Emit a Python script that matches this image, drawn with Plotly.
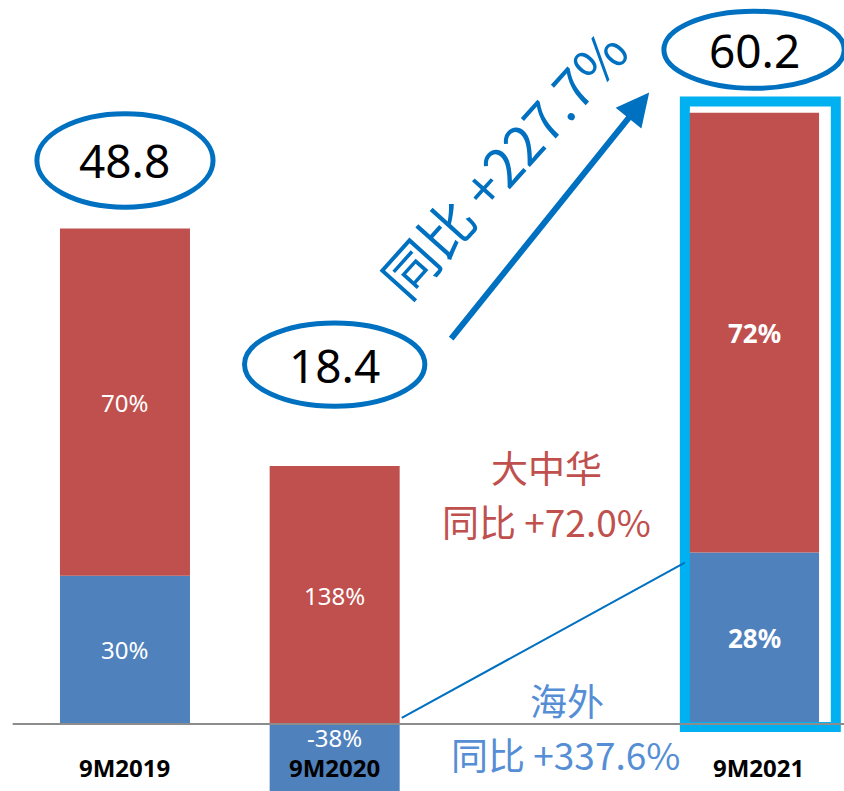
import plotly.graph_objects as go

# data
periods = ["9M2019", "9M2020", "9M2021"]
xpos = [0, 1, 3]
totals = [48.8, 18.4, 60.2]
overseas = [14.6, -7.0, 16.9]
greater_china = [34.2, 25.4, 43.3]
overseas_pct = ["30%", "-38%", "28%"]
china_pct = ["70%", "138%", "72%"]
total_yoy = "同比 +227.7%"
china_name = "大中华"
china_yoy = "同比 +72.0%"
overseas_name = "海外"
overseas_yoy = "同比 +337.6%"

RED = "#C0504D"
BLUE = "#4F81BD"
DARK = "#0070C0"
CJK = "Noto Sans CJK SC"
NUM = "Noto Sans, sans-serif"

fig = go.Figure()
fig.add_trace(go.Bar(x=xpos, y=overseas, marker_color=BLUE, width=0.62,
                     marker_line_width=0, hoverinfo="skip"))
fig.add_trace(go.Bar(x=xpos, y=greater_china, marker_color=RED, width=0.62,
                     marker_line_width=0, hoverinfo="skip"))

# segment labels
for i in range(len(periods)):
    bold = i == 2
    size = 26 if bold else 24
    blue_y = overseas[i] / 2 if overseas[i] > 0 else -1.3
    red_y = max(overseas[i], 0) + greater_china[i] / 2
    for txt, yy in [(overseas_pct[i], blue_y), (china_pct[i], red_y)]:
        fig.add_annotation(x=xpos[i], y=yy, text=f"<b>{txt}</b>" if bold else txt,
                           showarrow=False, font=dict(color="white", size=size, family=NUM))
    # category labels
    fig.add_annotation(x=xpos[i] + (0.02 if i == 2 else 0), y=-4.25,
                       text=f"<b>{periods[i]}</b>", showarrow=False,
                       font=dict(color="black", size=24, family=NUM))

# total ellipses
offsets = [6.7, 17.0, 6.2]
rx = [0.42, 0.43, 0.43]
ry = [4.6, 4.1, 3.8]
for i in range(len(periods)):
    cy = totals[i] + offsets[i]
    cx = xpos[i]
    fig.add_shape(type="circle", x0=cx - rx[i], x1=cx + rx[i], y0=cy - ry[i], y1=cy + ry[i],
                  line=dict(color=DARK, width=5))
    fig.add_annotation(x=cx, y=cy, text=f"{totals[i]}", showarrow=False,
                       font=dict(color="black", size=46, family=NUM))

# frame around 9M2021
fig.add_shape(type="rect", x0=2.67, x1=3.39, y0=-0.3, y1=61.3,
              line=dict(color="#00B0F0", width=10))

# baseline
fig.add_shape(type="line", xref="paper", x0=0.015, x1=1, y0=0, y1=0,
              line=dict(color="#8C8C8C", width=2))

# connector line
fig.add_shape(type="line", x0=1.32, y0=0.6, x1=2.67, y1=15.9,
              line=dict(color=DARK, width=2))

# big arrow
fig.add_annotation(x=2.5, y=62.2, ax=1.55, ay=37.8, axref="x", ayref="y",
                   showarrow=True, arrowhead=2, arrowsize=1.1, arrowwidth=6,
                   arrowcolor=DARK, text="")
fig.add_annotation(x=1.8, y=55.3, text=total_yoy, textangle=-48, showarrow=False,
                   font=dict(color=DARK, size=54, family=CJK))

# growth notes
notes = [
    (china_name, 2.01, 25.3, RED),
    (china_yoy, 2.01, 19.95, RED),
    (overseas_name, 2.11, 2.4, "#558ED5"),
    (overseas_yoy, 2.1, -2.95, "#558ED5"),
]
for txt, nx, ny, col in notes:
    fig.add_annotation(x=nx, y=ny, text=txt, showarrow=False,
                       font=dict(color=col, size=37, family=CJK))

fig.update_layout(
    width=844, height=791,
    margin=dict(l=0, r=0, t=0, b=0),
    barmode="relative",
    showlegend=False,
    plot_bgcolor="white",
    paper_bgcolor="white",
    xaxis=dict(range=[-0.596, 3.429], visible=False),
    yaxis=dict(range=[-6.6, 71.3], visible=False),
)

fig.write_html("out.html", config={"displayModeBar": False},
               post_script="document.body.style.margin='0';")
